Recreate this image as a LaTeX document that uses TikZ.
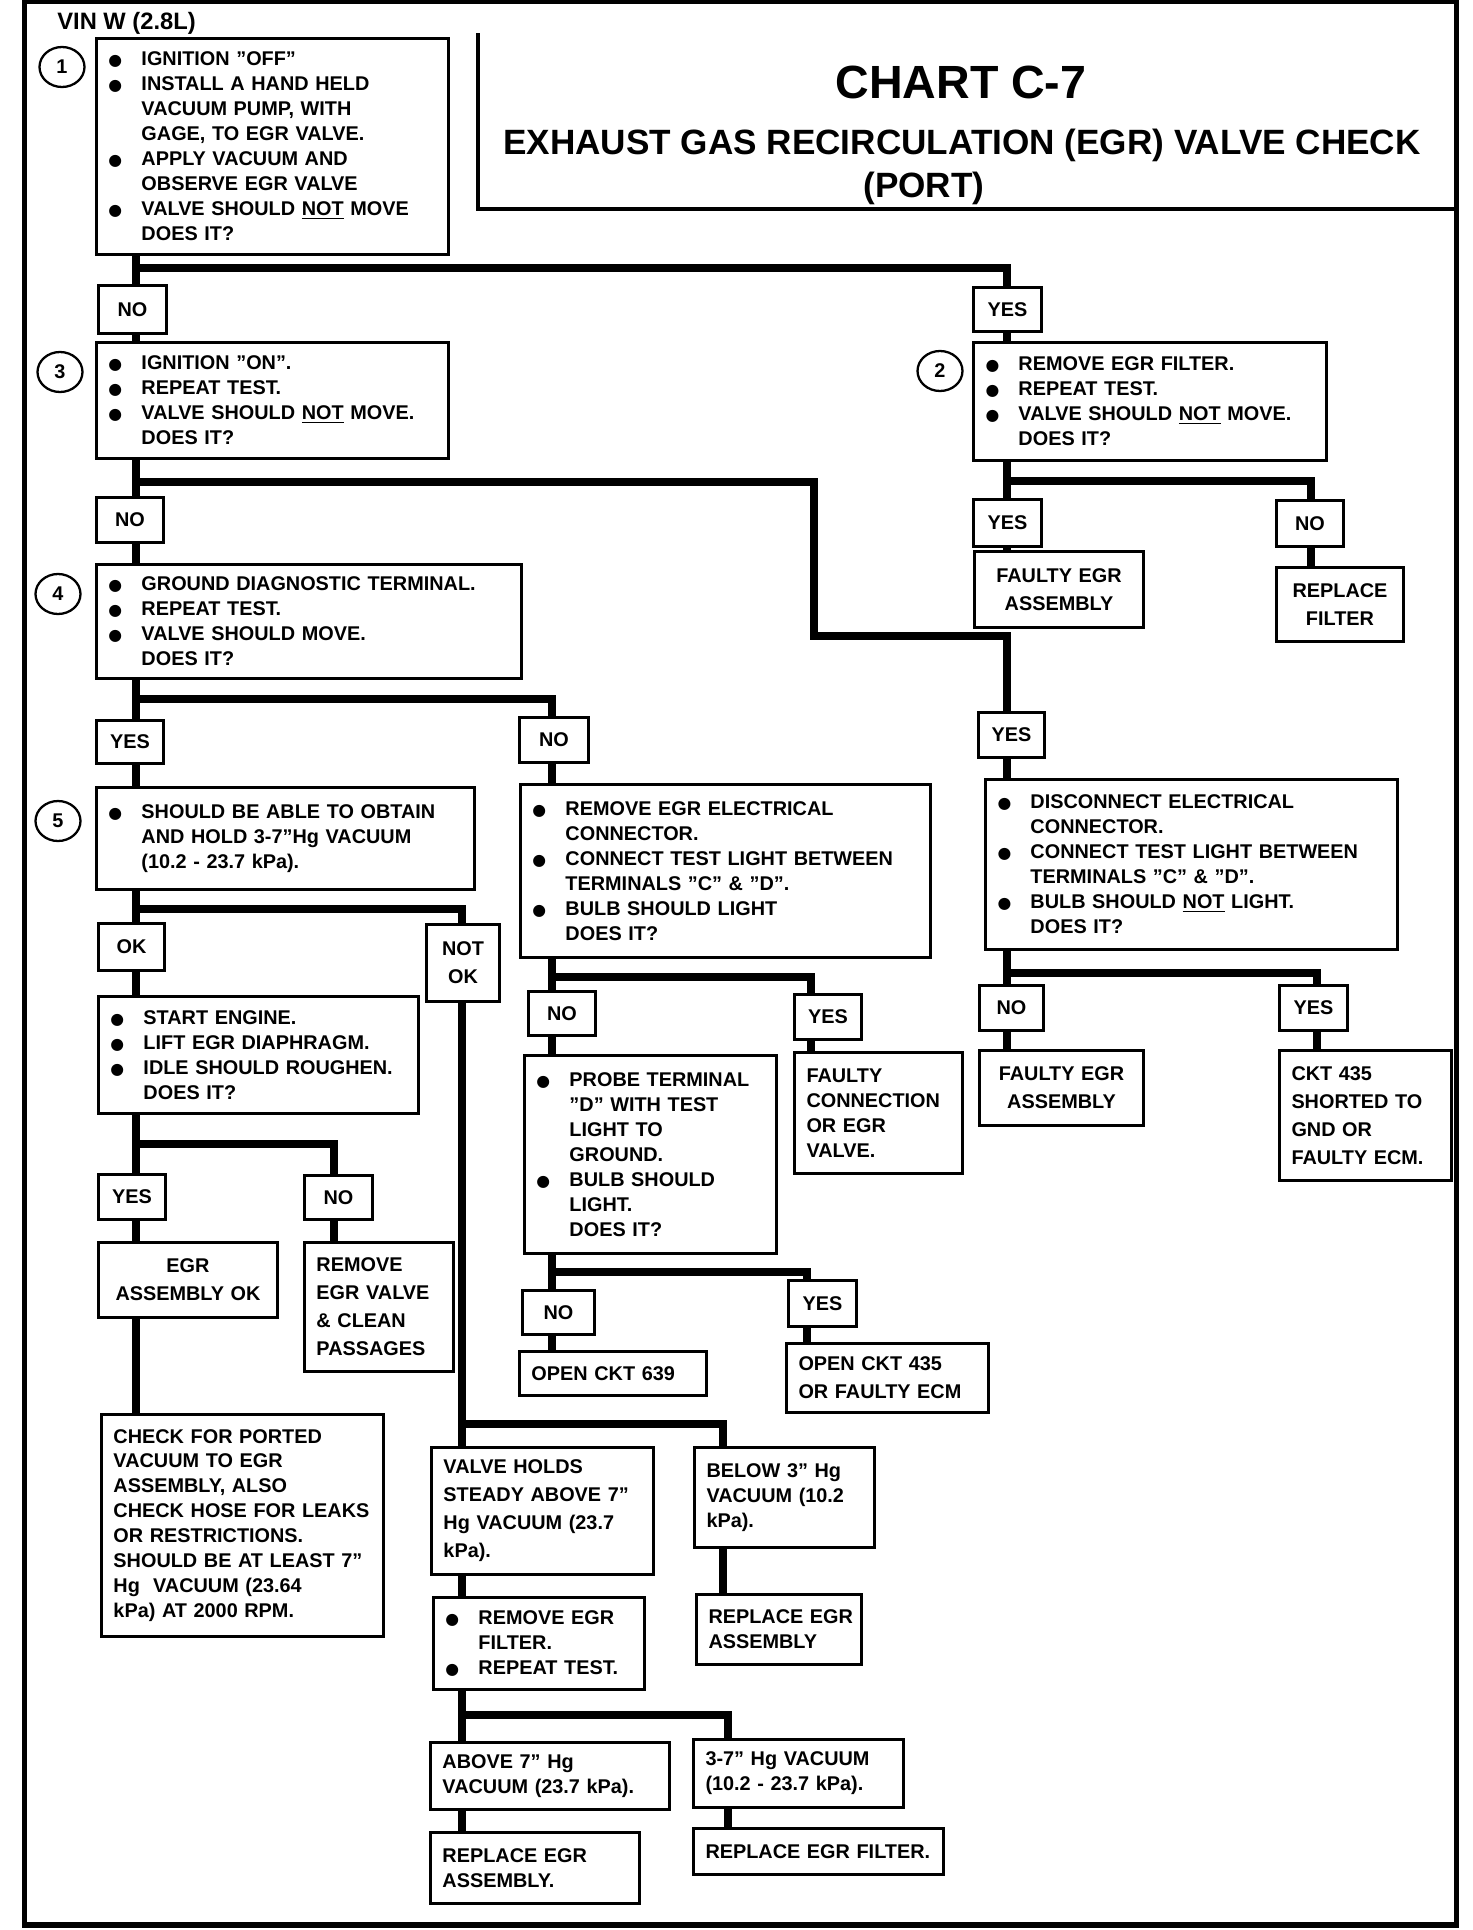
\documentclass[tikz,border=0pt]{standalone}
\usepackage{fontspec}
\setmainfont{Liberation Sans}
\newfontfamily\dejavu{DejaVu Sans}
\usetikzlibrary{shapes.geometric}

\newcommand\bodyfont{\fontsize{11.3}{14.2}\selectfont\bfseries}
\newcommand\loosefont{\fontsize{11.3}{15.9}\selectfont\bfseries}
\newcommand\bul{\makebox[0.66cm][l]{{\dejavu\fontsize{9}{9}\selectfont ●}}}
\newcommand\ind{\hspace*{0.66cm}}

\tikzset{
  plate/.style={draw, line width=1.7pt, anchor=north west, inner sep=0pt, font=\bodyfont},
  box/.style={plate, align=left, execute at begin node={\leftskip=0.24cm}},
  loosebox/.style={box, font=\loosefont},
  midbox/.style={plate, align=center, font=\loosefont},
  tag/.style={plate, align=center},
  num/.style={ellipse, draw, line width=1.3pt, minimum width=0.9cm, minimum height=0.8cm,
              inner sep=0pt, font=\bodyfont},
  flow/.style={line width=4.2pt}
}

\begin{document}
\begin{tikzpicture}[x=0.02cm, y=-0.02cm]
\useasboundingbox (0,0) rectangle (1472,1930);

% frame and title block
\draw[line width=3.2pt] (24.5,1.5) rectangle (1456.5,1925);
\draw[line width=2pt] (478,33) -- (478,209) -- (1456,209);
\node[anchor=base west, inner sep=0pt, font=\fontsize{13.5}{16}\selectfont\bfseries] (vin) at (57,30) {VIN W (2.8L)};
\node[anchor=base, inner sep=0pt, font=\fontsize{26.5}{30}\selectfont\bfseries] (chart) at (961,98) {CHART C-7};
\node[anchor=base, inner sep=0pt, font=\fontsize{20}{24}\selectfont\bfseries] (subject) at (962,154) {EXHAUST GAS RECIRCULATION (EGR) VALVE CHECK};
\node[anchor=base, inner sep=0pt, font=\fontsize{20}{24}\selectfont\bfseries] (port) at (924,197) {(PORT)};

% step 1
\node[box, text width=7.04cm, minimum height=4.32cm] (s1) at (95,37)
{\bul IGNITION ”OFF”\\
 \bul INSTALL A HAND HELD\\
 \ind VACUUM PUMP, WITH\\
 \ind GAGE, TO EGR VALVE.\\
 \bul APPLY VACUUM AND\\
 \ind OBSERVE EGR VALVE\\
 \bul VALVE SHOULD \underline{NOT} MOVE\\
 \ind DOES IT?};
\node[num] (c1) at (62,67) {1};
\node[tag, text width=1.36cm, minimum height=0.96cm] (n1) at (97,284) {NO};
\node[tag, text width=1.36cm, minimum height=0.88cm] (y1) at (972,286) {YES};

% step 3 and step 2
\node[box, text width=7.04cm, minimum height=2.32cm] (s3) at (95,341)
{\bul IGNITION ”ON”.\\
 \bul REPEAT TEST.\\
 \bul VALVE SHOULD \underline{NOT} MOVE.\\
 \ind DOES IT?};
\node[num] (c3) at (60,372) {3};
\node[box, text width=7.06cm, minimum height=2.36cm] (s2) at (972,341)
{\bul REMOVE EGR FILTER.\\
 \bul REPEAT TEST.\\
 \bul VALVE SHOULD \underline{NOT} MOVE.\\
 \ind DOES IT?};
\node[num] (c2) at (940,371) {2};
\node[tag, text width=1.34cm, minimum height=0.90cm] (n3) at (95,496) {NO};
\node[tag, text width=1.36cm, minimum height=0.94cm] (y2) at (972,498) {YES};
\node[tag, text width=1.34cm, minimum height=0.92cm] (n2) at (1275,499) {NO};
\node[midbox, text width=3.38cm, minimum height=1.52cm] (r1) at (973,550) {FAULTY EGR\\ASSEMBLY};
\node[midbox, text width=2.54cm, minimum height=1.48cm] (r2) at (1275,566) {REPLACE\\FILTER};

% step 4
\node[box, text width=8.50cm, minimum height=2.28cm] (s4) at (95,563)
{\bul GROUND DIAGNOSTIC TERMINAL.\\
 \bul REPEAT TEST.\\
 \bul VALVE SHOULD MOVE.\\
 \ind DOES IT?};
\node[num] (c4) at (58,594) {4};
\node[tag, text width=1.34cm, minimum height=0.86cm] (y4) at (95,719) {YES};
\node[tag, text width=1.38cm, minimum height=0.90cm] (n4) at (518,716) {NO};
\node[tag, text width=1.32cm, minimum height=0.90cm] (y3) at (977,711) {YES};

% electrical checks
\node[box, text width=8.20cm, minimum height=3.46cm] (s7) at (519,783)
{\bul REMOVE EGR ELECTRICAL\\
 \ind CONNECTOR.\\
 \bul CONNECT TEST LIGHT BETWEEN\\
 \ind TERMINALS ”C” \& ”D”.\\
 \bul BULB SHOULD LIGHT\\
 \ind DOES IT?};
\node[box, text width=8.24cm, minimum height=3.40cm] (s6) at (984,778)
{\bul DISCONNECT ELECTRICAL\\
 \ind CONNECTOR.\\
 \bul CONNECT TEST LIGHT BETWEEN\\
 \ind TERMINALS ”C” \& ”D”.\\
 \bul BULB SHOULD \underline{NOT} LIGHT.\\
 \ind DOES IT?};
\node[tag, text width=1.28cm, minimum height=0.90cm] (n6) at (978,984) {NO};
\node[tag, text width=1.36cm, minimum height=0.90cm] (y6) at (1278,984) {YES};
\node[midbox, text width=3.28cm, minimum height=1.50cm] (r3) at (978,1049) {FAULTY EGR\\ASSEMBLY};
\node[loosebox, text width=3.44cm, minimum height=2.60cm] (r4) at (1278,1049)
{CKT 435\\SHORTED TO\\GND OR\\FAULTY ECM.};
\node[tag, text width=1.34cm, minimum height=0.88cm] (n7) at (527,990) {NO};
\node[tag, text width=1.34cm, minimum height=0.90cm] (y7) at (793,993) {YES};
\node[box, text width=5.04cm, minimum height=3.96cm] (s9) at (523,1054)
{\bul PROBE TERMINAL\\
 \ind ”D” WITH TEST\\
 \ind LIGHT TO\\
 \ind GROUND.\\
 \bul BULB SHOULD\\
 \ind LIGHT.\\
 \ind DOES IT?};
\node[box, text width=3.36cm, minimum height=2.42cm] (r5) at (793,1051)
{FAULTY\\CONNECTION\\OR EGR\\VALVE.};
\node[tag, text width=1.44cm, minimum height=0.88cm] (n9) at (521,1289) {NO};
\node[tag, text width=1.36cm, minimum height=0.92cm] (y9) at (787,1279) {YES};
\node[box, text width=3.74cm, minimum height=0.88cm] (r6) at (518,1350) {OPEN CKT 639};
\node[loosebox, text width=4.04cm, minimum height=1.38cm] (r7) at (785,1342) {OPEN CKT 435\\OR FAULTY ECM};

% step 5
\node[box, text width=7.56cm, minimum height=2.04cm] (s5) at (95,786)
{\bul SHOULD BE ABLE TO OBTAIN\\
 \ind AND HOLD 3-7”Hg VACUUM\\
 \ind (10.2 - 23.7 kPa).};
\node[num] (c5) at (58,821) {5};
\node[tag, text width=1.32cm, minimum height=0.94cm] (ok) at (97,922) {OK};
\node[tag, font=\loosefont, text width=1.46cm, minimum height=1.54cm] (nok) at (425,923) {NOT\\OK};
\node[box, text width=6.40cm, minimum height=2.34cm] (s8) at (97,995)
{\bul START ENGINE.\\
 \bul LIFT EGR DIAPHRAGM.\\
 \bul IDLE SHOULD ROUGHEN.\\
 \ind DOES IT?};
\node[tag, text width=1.34cm, minimum height=0.90cm] (y8) at (97,1173) {YES};
\node[tag, text width=1.36cm, minimum height=0.88cm] (n8) at (303,1174) {NO};
\node[midbox, text width=3.58cm, minimum height=1.50cm] (r8) at (97,1241) {EGR\\ASSEMBLY OK};
\node[loosebox, text width=2.98cm, minimum height=2.58cm] (r9) at (303,1241)
{REMOVE\\EGR VALVE\\\& CLEAN\\PASSAGES};
\node[box, text width=5.64cm, minimum height=4.44cm] (r10) at (100,1413)
{CHECK FOR PORTED\\VACUUM TO EGR\\ASSEMBLY, ALSO\\CHECK HOSE FOR LEAKS\\OR RESTRICTIONS.\\SHOULD BE AT LEAST 7”\\Hg\ \ VACUUM (23.64\\kPa) AT 2000 RPM.};

% vacuum results
\node[loosebox, text width=4.44cm, minimum height=2.54cm] (r11) at (430,1446)
{VALVE HOLDS\\STEADY ABOVE 7”\\Hg VACUUM (23.7\\kPa).};
\node[box, text width=3.60cm, minimum height=2.00cm] (r12) at (693,1446)
{BELOW 3” Hg\\VACUUM (10.2\\kPa).};
\node[box, text width=3.30cm, minimum height=1.40cm] (r13) at (695,1593) {REPLACE EGR\\ASSEMBLY};
\node[box, text width=4.22cm, minimum height=1.84cm] (s10) at (432,1596)
{\bul REMOVE EGR\\
 \ind FILTER.\\
 \bul REPEAT TEST.};
\node[box, text width=4.78cm, minimum height=1.34cm] (r14) at (429,1741) {ABOVE 7” Hg\\VACUUM (23.7 kPa).};
\node[box, text width=4.20cm, minimum height=1.36cm] (r15) at (692,1738) {3-7” Hg VACUUM\\(10.2 - 23.7 kPa).};
\node[box, text width=4.18cm, minimum height=1.42cm] (r16) at (429,1831) {REPLACE EGR\\ASSEMBLY.};
\node[box, text width=5.00cm, minimum height=0.92cm] (r17) at (692,1827) {REPLACE EGR FILTER.};

% connector columns
\coordinate (colL) at (136,0);
\coordinate (colR) at (1007,0);
\coordinate (colF) at (1311,0);
\coordinate (colE) at (1317,0);
\coordinate (colM) at (552,0);
\coordinate (colC) at (811,0);
\coordinate (colP) at (807,0);
\coordinate (colD) at (334,0);
\coordinate (colV) at (462,0);
\coordinate (colB) at (723,0);
\coordinate (colA) at (728,0);
\coordinate (bend) at (814,636);

% connectors
\foreach \p/\q in {s1/n1, n1/s3, s3/n3, n3/s4, s4/y4, y4/s5, s5/ok, ok/s8, s8/y8, y8/r8, r8/r10}
  \draw[flow] (\p.south -| colL) -- (\q.north -| colL);
\foreach \p/\q in {y1/s2, s2/y2, y2/r1, y3/s6, s6/n6, n6/r3}
  \draw[flow] (\p.south -| colR) -- (\q.north -| colR);
\foreach \p/\q in {n4/s7, s7/n7, n7/s9, s9/n9, n9/r6}
  \draw[flow] (\p.south -| colM) -- (\q.north -| colM);
\foreach \p/\q in {nok/r11, r11/s10, s10/r14, r14/r16}
  \draw[flow] (\p.south -| colV) -- (\q.north -| colV);

\draw[flow] (s1.south -| colL) ++(0,12) -| (y1.north -| colR);
\draw[flow] (s3.south -| colL) ++(0,22) -| (bend) -| (y3.north -| colR);
\draw[flow] (s2.south -| colR) ++(0,19) -| (n2.north -| colF);
\draw[flow] (n2.south -| colF) -- (r2.north -| colF);
\draw[flow] (s4.south -| colL) ++(0,19) -| (n4.north -| colM);
\draw[flow] (s6.south -| colR) ++(0,22) -| (y6.north -| colE);
\draw[flow] (y6.south -| colE) -- (r4.north -| colE);
\draw[flow] (s7.south -| colM) ++(0,18) -| (y7.north -| colC);
\draw[flow] (y7.south -| colC) -- (r5.north -| colC);
\draw[flow] (s9.south -| colM) ++(0,17) -| (y9.north -| colP);
\draw[flow] (y9.south -| colP) -- (r7.north -| colP);
\draw[flow] (s5.south -| colL) ++(0,18) -| (nok.north -| colV);
\draw[flow] (s8.south -| colL) ++(0,29) -| (n8.north -| colD);
\draw[flow] (n8.south -| colD) -- (r9.north -| colD);
\draw[flow] (r11.north -| colV) ++(0,-22) -| (r12.north -| colB);
\draw[flow] (r12.south -| colB) -- (r13.north -| colB);
\draw[flow] (s10.south -| colV) ++(0,24) -| (r15.north -| colA);
\draw[flow] (r15.south -| colA) -- (r17.north -| colA);
\end{tikzpicture}
\end{document}
